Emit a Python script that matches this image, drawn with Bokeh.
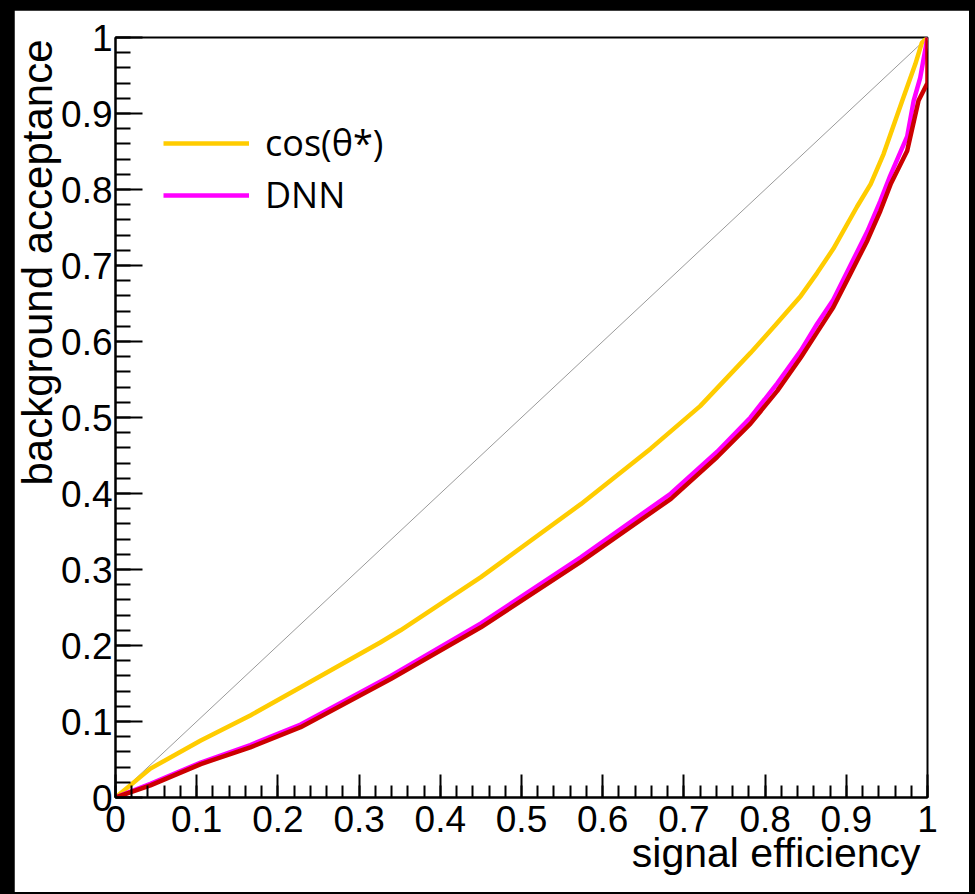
from bokeh.plotting import figure
from bokeh.models import (Range1d, FixedTicker, Legend, LegendItem, Title,
                          GlobalInlineStyleSheet)
from bokeh.embed import file_html
from bokeh.resources import INLINE

# ---- data ----
TICKS = [0, 0.1, 0.2, 0.3, 0.4, 0.5, 0.6, 0.7, 0.8, 0.9, 1.0]
TICK_LABELS = ["0", "0.1", "0.2", "0.3", "0.4", "0.5", "0.6", "0.7", "0.8", "0.9", "1"]
MINOR_TICKS = [i / 50 for i in range(51)]
X_TITLE = "signal efficiency"
Y_TITLE = "background acceptance"

diag_x = [0, 1]
diag_y = [0, 1]

cos_x = [0, 0.043, 0.105, 0.166, 0.228, 0.326, 0.351, 0.45, 0.573, 0.659, 0.72,
         0.782, 0.813, 0.844, 0.864, 0.884, 0.913, 0.93, 0.946, 0.969, 0.985, 0.993, 1.0]
cos_y = [0, 0.038, 0.075, 0.108, 0.145, 0.204, 0.22, 0.29, 0.386, 0.459, 0.515,
         0.585, 0.622, 0.66, 0.69, 0.722, 0.777, 0.807, 0.847, 0.917, 0.965, 0.993, 1.0]

dnn_x = [0, 0.043, 0.105, 0.166, 0.228, 0.339, 0.45, 0.573, 0.684, 0.741, 0.782,
         0.815, 0.844, 0.864, 0.884, 0.905, 0.926, 0.942, 0.954, 0.975, 0.983, 0.991, 1.0]
dnn_y = [0, 0.018, 0.046, 0.069, 0.096, 0.16, 0.229, 0.316, 0.40, 0.455, 0.50,
         0.545, 0.588, 0.623, 0.655, 0.70, 0.745, 0.785, 0.818, 0.87, 0.917, 0.947, 1.0]

red_x = [0, 0.043, 0.105, 0.166, 0.228, 0.339, 0.45, 0.573, 0.684, 0.741, 0.782,
         0.815, 0.844, 0.864, 0.884, 0.905, 0.926, 0.942, 0.955, 0.975, 0.989, 1.0, 1.0]
red_y = [0, 0.016, 0.044, 0.066, 0.0925, 0.156, 0.224, 0.31, 0.393, 0.448, 0.492,
         0.535, 0.579, 0.612, 0.645, 0.689, 0.733, 0.772, 0.808, 0.851, 0.917, 0.94, 1.0]

SERIES_NAMES = ["cos(θ*)", "DNN"]

# ---- figure ----
p = figure(width=955, height=882, frame_width=812, frame_height=760,
           x_range=Range1d(0, 1), y_range=Range1d(0, 1),
           output_backend="svg", toolbar_location=None,
           min_border_left=101, min_border_right=42,
           min_border_top=27, min_border_bottom=95,
           background_fill_color="white", border_fill_color="white")
p.stylesheets = [GlobalInlineStyleSheet(css="body{background:#000;margin:10px 0 0 14px;}")]

p.xgrid.visible = False
p.ygrid.visible = False
p.outline_line_color = "black"
p.outline_line_width = 2

overrides = {t: l for t, l in zip(TICKS, TICK_LABELS)}
for ax, maj, mn in ((p.xaxis[0], 23, 12), (p.yaxis[0], 27, 15)):
    ax.ticker = FixedTicker(ticks=TICKS, minor_ticks=MINOR_TICKS)
    ax.major_label_overrides = overrides
    ax.axis_line_color = "black"
    ax.axis_line_width = 2
    ax.major_tick_line_width = 2
    ax.minor_tick_line_width = 2
    ax.major_tick_in = maj
    ax.major_tick_out = 0
    ax.minor_tick_in = mn
    ax.minor_tick_out = 0
    ax.major_label_text_font = "Liberation Sans"
    ax.major_label_text_font_size = "37px"
    ax.major_label_text_color = "black"
p.xaxis[0].major_label_standoff = 8
p.yaxis[0].major_label_standoff = 3

# ---- axis titles (ROOT style: right / top aligned) ----
p.add_layout(Title(text=X_TITLE, align="right", offset=7, standoff=-14,
                   text_font="Liberation Sans", text_font_size="41px",
                   text_font_style="normal", text_color="black"), "below")
p.add_layout(Title(text=Y_TITLE, align="right", offset=2, standoff=-5,
                   text_font="Liberation Sans", text_font_size="42px",
                   text_font_style="normal", text_color="black"), "left")

# ---- curves ----
p.line(diag_x, diag_y, line_color="#9a9a9a", line_width=1)
r_cos = p.line(cos_x, cos_y, line_color="#ffcc00", line_width=4.5)
r_dnn = p.line(dnn_x, dnn_y, line_color="#ff00ff", line_width=4.5)
p.line(red_x, red_y, line_color="#cc0000", line_width=4.5)

# ---- legend ----
legend = Legend(items=[LegendItem(label=SERIES_NAMES[0], renderers=[r_cos]),
                       LegendItem(label=SERIES_NAMES[1], renderers=[r_dnn])],
                location=(48, 578), orientation="vertical",
                glyph_width=86, glyph_height=40, label_height=40,
                spacing=3, padding=0, margin=0, label_standoff=16,
                label_text_font="Open Sans", label_text_font_size="36px",
                label_text_color="black",
                background_fill_alpha=0, border_line_alpha=0)
p.add_layout(legend)

open("out.html", "w").write(file_html(p, INLINE))
